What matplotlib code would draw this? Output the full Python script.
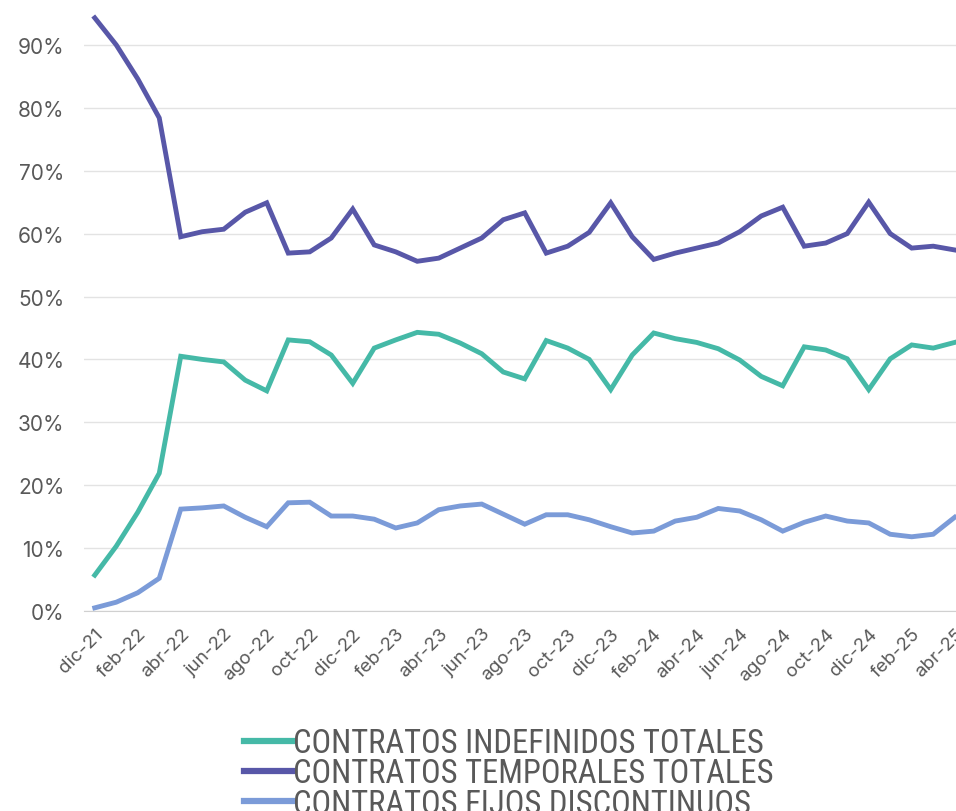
import matplotlib
matplotlib.use('Agg')
import matplotlib.pyplot as plt
import numpy as np
from matplotlib import font_manager

# months dic-21 .. abr-25
meses = ['dic-21', 'ene-22', 'feb-22', 'mar-22', 'abr-22', 'may-22', 'jun-22',
         'jul-22', 'ago-22', 'sep-22', 'oct-22', 'nov-22', 'dic-22', 'ene-23',
         'feb-23', 'mar-23', 'abr-23', 'may-23', 'jun-23', 'jul-23', 'ago-23',
         'sep-23', 'oct-23', 'nov-23', 'dic-23', 'ene-24', 'feb-24', 'mar-24',
         'abr-24', 'may-24', 'jun-24', 'jul-24', 'ago-24', 'sep-24', 'oct-24',
         'nov-24', 'dic-24', 'ene-25', 'feb-25', 'mar-25', 'abr-25']

indefinidos = [5.7, 10.3, 15.7, 21.9, 40.5, 40.0, 39.6, 36.7, 35.0, 43.1, 42.8,
               40.7, 36.2, 41.8, 43.1, 44.3, 44.0, 42.6, 40.9, 38.0, 36.9,
               43.0, 41.8, 40.0, 35.2, 40.7, 44.2, 43.3, 42.7, 41.7, 39.9,
               37.3, 35.8, 42.0, 41.5, 40.1, 35.2, 40.1, 42.3, 41.8, 42.7]

temporales = [94.3, 90.0, 84.6, 78.4, 59.5, 60.3, 60.7, 63.4, 64.9, 56.9, 57.1,
              59.3, 63.9, 58.2, 57.1, 55.6, 56.1, 57.7, 59.3, 62.2, 63.3,
              56.9, 58.0, 60.2, 64.9, 59.5, 55.9, 56.9, 57.7, 58.5, 60.3,
              62.8, 64.2, 58.0, 58.5, 60.0, 65.0, 60.0, 57.7, 58.0, 57.4]

fijos = [0.5, 1.4, 2.9, 5.2, 16.2, 16.4, 16.7, 14.9, 13.4, 17.2, 17.3,
         15.1, 15.1, 14.6, 13.2, 14.0, 16.1, 16.7, 17.0, 15.4, 13.8,
         15.3, 15.3, 14.5, 13.4, 12.4, 12.7, 14.3, 14.9, 16.3, 15.9,
         14.5, 12.7, 14.1, 15.1, 14.3, 14.0, 12.2, 11.8, 12.2, 14.9]

series = ['CONTRATOS INDEFINIDOS TOTALES',
          'CONTRATOS TEMPORALES TOTALES',
          'CONTRATOS FIJOS DISCONTINUOS']
colores = ['#45b9a7', '#5857a8', '#7b9bd8']


def pick_font(names):
    avail = set(f.name for f in font_manager.fontManager.ttflist)
    for n in names:
        if n in avail:
            return n
    return 'DejaVu Sans'


font_ticks = pick_font(['Inter', 'Liberation Sans', 'DejaVu Sans'])
font_legend = pick_font(['Liberation Sans Narrow', 'Roboto Condensed',
                         'Liberation Sans', 'DejaVu Sans'])

fig = plt.figure(figsize=(9.56, 8.12), dpi=100)
ax = fig.add_axes([84 / 956, 200 / 812, 1 - 84 / 956, 612 / 812])

x = np.arange(len(meses))
for vals, lab, col in zip([indefinidos, temporales, fijos], series, colores):
    ax.plot(x, np.array(vals) / 100, color=col, lw=3.5, label=lab,
            solid_joinstyle='miter')

ax.set_xlim(-0.5, 40.06)
ax.set_ylim(0, 0.973)
ax.set_yticks(np.arange(0, 1.0, 0.1))
ax.set_yticklabels(['%d%%' % v for v in range(0, 100, 10)],
                   fontsize=15, color='#595959', family=font_ticks)
ax.set_xticks(x[::2])
ax.set_xticklabels(meses[::2], rotation=45, ha='right', rotation_mode='anchor',
                   fontsize=13.5, color='#595959', family=font_ticks)
ax.tick_params(axis='both', length=0)
ax.tick_params(axis='y', pad=14)
ax.tick_params(axis='x', pad=10)

ax.grid(axis='y', color='#e3e3e3', lw=1)
ax.set_axisbelow(True)
for s in ['top', 'right', 'left']:
    ax.spines[s].set_visible(False)
ax.spines['bottom'].set_color('#d0d0d0')

leg = fig.legend(loc='upper center', bbox_to_anchor=(509 / 956, 1 - 715 / 812),
                 frameon=False, ncol=1, handlelength=1.45, handletextpad=0.05,
                 labelspacing=-0.05, borderaxespad=0,
                 prop={'family': font_legend, 'size': 23.5})
for t in leg.get_texts():
    t.set_color('#595959')
for h in leg.get_lines():
    h.set_linewidth(4.5)

fig.savefig('out.png', dpi=100)
